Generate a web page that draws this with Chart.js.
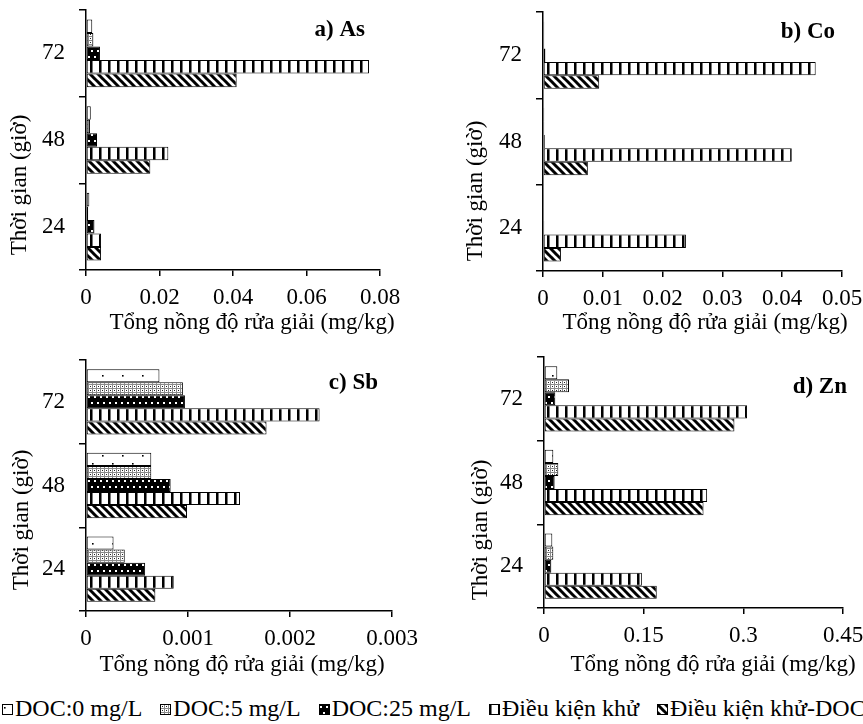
<!DOCTYPE html>
<html lang="vi">
<head>
  <meta charset="UTF-8" />
  <title>Tổng nồng độ rửa giải</title>
  <script src="https://cdn.jsdelivr.net/npm/chart.js"></script>
  <style>
    body {
      margin: 0;
      background: #fff;
      font-family: 'Liberation Serif', 'Times New Roman', serif;
    }
    .page {
      position: relative;
      width: 863px;
      height: 724px;
      overflow: hidden;
    }
    .page canvas.panel {
      position: absolute;
    }
    #chartA { left: 0; top: 0; }
    #chartB { left: 430px; top: 0; }
    #chartC { left: 0; top: 340px; }
    #chartD { left: 430px; top: 340px; }
    .legend {
      position: absolute;
      left: 2px;
      top: 693px;
      width: 861px;
      height: 30px;
      font-size: 24px;
      color: #000;
      white-space: nowrap;
      display: flex;
      align-items: center;
    }
    .legend .item {
      display: flex;
      align-items: center;
      margin-right: 18px;
      flex: none;
    }
    .legend .item canvas {
      margin-right: 2px;
      margin-top: 2px;
    }
  </style>
</head>
<body>
  <div class="page">
    <canvas id="chartA" class="panel" width="430" height="340"></canvas>
    <canvas id="chartB" class="panel" width="433" height="340"></canvas>
    <canvas id="chartC" class="panel" width="430" height="340"></canvas>
    <canvas id="chartD" class="panel" width="433" height="340"></canvas>
    <div class="legend" id="legend"></div>
  </div>

  <script>
    // categories (giờ) and series
    const categories = ['72', '48', '24'];
    const seriesNames = ['DOC:0 mg/L', 'DOC:5 mg/L', 'DOC:25 mg/L', 'Điều kiện khử', 'Điều kiện khử-DOC:25 mg/L'];

    // a) As
    const asDoc0 = [0.0017, 0.0013, 0.0009];
    const asDoc5 = [0.0020, 0.0011, 0.0006];
    const asDoc25 = [0.0038, 0.0030, 0.0023];
    const asKhu = [0.0770, 0.0224, 0.0041];
    const asKhuDoc = [0.0410, 0.0175, 0.0041];
    const asTicks = ['0', '0.02', '0.04', '0.06', '0.08'];

    // b) Co
    const coDoc0 = [0.0002, 0.0002, 0.0001];
    const coDoc5 = [0.0002, 0.0002, 0.0001];
    const coDoc25 = [0.0004, 0.0003, 0.0002];
    const coKhu = [0.0456, 0.0416, 0.0239];
    const coKhuDoc = [0.0094, 0.0075, 0.0030];
    const coTicks = ['0', '0.01', '0.02', '0.03', '0.04', '0.05'];

    // c) Sb
    const sbDoc0 = [0.00072, 0.00064, 0.00027];
    const sbDoc5 = [0.00095, 0.00064, 0.00038];
    const sbDoc25 = [0.00097, 0.00083, 0.00058];
    const sbKhu = [0.00229, 0.00151, 0.00086];
    const sbKhuDoc = [0.00177, 0.00099, 0.00068];
    const sbTicks = ['0', '0.001', '0.002', '0.003'];

    // d) Zn
    const znDoc0 = [0.020, 0.014, 0.0125];
    const znDoc5 = [0.0376, 0.0215, 0.014];
    const znDoc25 = [0.017, 0.016, 0.011];
    const znKhu = [0.3056, 0.2455, 0.1473];
    const znKhuDoc = [0.2866, 0.2401, 0.1697];
    const znTicks = ['0', '0.15', '0.3', '0.45'];

    const xTitle = 'Tổng nồng độ rửa giải (mg/kg)';
    const yTitle = 'Thời gian (giờ)';
    const FONT = '"Liberation Serif", "Times New Roman", serif';

    Chart.defaults.font.family = FONT;
    Chart.defaults.color = '#000';

    // hatch fills
    function makePattern(w, h, draw) {
      const c = document.createElement('canvas');
      c.width = w;
      c.height = h;
      const g = c.getContext('2d');
      draw(g, w, h);
      return g.createPattern(c, 'repeat');
    }

    const fills = [
      makePattern(20, 16, (g, w, h) => {
        g.fillStyle = '#fff'; g.fillRect(0, 0, w, h);
        g.fillStyle = '#000';
        g.fillRect(2, 3, 1.6, 1.6);
        g.fillRect(12, 11, 1.6, 1.6);
      }),
      makePattern(4, 4, (g, w, h) => {
        g.fillStyle = '#fff'; g.fillRect(0, 0, w, h);
        g.fillStyle = '#8a8a8a';
        g.fillRect(0, 0, 4, 1);
        g.fillRect(0, 0, 1, 4);
        g.fillStyle = '#222';
        g.fillRect(2, 2, 1, 1);
      }),
      makePattern(6, 12, (g, w, h) => {
        g.fillStyle = '#000'; g.fillRect(0, 0, w, h);
        g.fillStyle = '#fff';
        g.fillRect(1, 2, 2, 2);
        g.fillRect(4, 8, 2, 2);
      }),
      makePattern(9, 4, (g, w, h) => {
        g.fillStyle = '#fff'; g.fillRect(0, 0, w, h);
        g.fillStyle = '#000';
        g.fillRect(0, 0, 2, h);
        g.fillStyle = '#777';
        g.fillRect(2, 0, 1, h);
      }),
      makePattern(8, 8, (g, w, h) => {
        g.fillStyle = '#fff'; g.fillRect(0, 0, w, h);
        g.strokeStyle = '#000';
        g.lineWidth = 3;
        for (let k = -1; k <= 1; k++) {
          g.beginPath();
          g.moveTo(k * w - 1, -1);
          g.lineTo(k * w + w + 1, h + 1);
          g.stroke();
        }
      })
    ];

    // titles drawn at fixed spots around each panel
    const panelText = {
      id: 'panelText',
      afterDraw(chart, args, opts) {
        const ctx = chart.ctx;
        ctx.save();
        ctx.fillStyle = '#000';
        ctx.textBaseline = 'alphabetic';
        ctx.font = 'bold 23px ' + FONT;
        ctx.textAlign = 'right';
        ctx.fillText(opts.label, opts.labelX, opts.labelY);
        ctx.font = '23px ' + FONT;
        ctx.textAlign = 'center';
        ctx.fillText(xTitle, opts.xTitleX, opts.xTitleY);
        ctx.translate(opts.yTitleX, opts.yTitleY);
        ctx.rotate(-Math.PI / 2);
        ctx.textBaseline = 'middle';
        ctx.fillText(yTitle, 0, 0);
        ctx.restore();
      }
    };

    function makeChart(id, values, tickLabels, max, step, area, text) {
      return new Chart(document.getElementById(id), {
        type: 'bar',
        data: {
          labels: categories,
          datasets: seriesNames.map((name, i) => ({
            label: name,
            data: values[i],
            backgroundColor: fills[i],
            borderColor: '#000',
            borderWidth: 1,
            borderSkipped: false,
            categoryPercentage: 0.78,
            barPercentage: 1.0
          }))
        },
        options: {
          indexAxis: 'y',
          responsive: false,
          animation: false,
          events: [],
          layout: { padding: { left: 0, top: area.top, right: area.right, bottom: 0 } },
          plugins: {
            legend: { display: false },
            tooltip: { enabled: false },
            panelText: text
          },
          scales: {
            y: {
              grid: { drawOnChartArea: false, color: '#000', lineWidth: 1.5, tickLength: 7, offset: true },
              border: { color: '#000', width: 1.5 },
              ticks: { color: '#000', font: { size: 23 }, padding: 14 },
              afterFit(s) { s.width = area.left; s.paddingTop = 0; s.paddingBottom = 0; }
            },
            x: {
              min: 0,
              max: max,
              grid: { drawOnChartArea: false, color: '#000', lineWidth: 1.5, tickLength: 6 },
              border: { color: '#000', width: 1.5 },
              ticks: {
                stepSize: step,
                color: '#000',
                font: { size: 23 },
                padding: 8,
                maxRotation: 0,
                callback: (v, i) => tickLabels[i]
              },
              afterFit(s) { s.height = area.xHeight; s.paddingLeft = 0; s.paddingRight = 0; }
            }
          }
        },
        plugins: [panelText]
      });
    }

    makeChart('chartA', [asDoc0, asDoc5, asDoc25, asKhu, asKhuDoc], asTicks, 0.08, 0.02,
      { left: 86, top: 10, right: 50, xHeight: 70 },
      { label: 'a) As', labelX: 365, labelY: 36, xTitleX: 252, xTitleY: 329, yTitleX: 20, yTitleY: 185 });

    makeChart('chartB', [coDoc0, coDoc5, coDoc25, coKhu, coKhuDoc], coTicks, 0.05, 0.01,
      { left: 113, top: 12, right: 21, xHeight: 69 },
      { label: 'b) Co', labelX: 405, labelY: 38, xTitleX: 275, xTitleY: 329, yTitleX: 46, yTitleY: 191 });

    makeChart('chartC', [sbDoc0, sbDoc5, sbDoc25, sbKhu, sbKhuDoc], sbTicks, 0.003, 0.001,
      { left: 86, top: 20, right: 38, xHeight: 69 },
      { label: 'c) Sb', labelX: 378, labelY: 49, xTitleX: 242, xTitleY: 331, yTitleX: 22, yTitleY: 180 });

    makeChart('chartD', [znDoc0, znDoc5, znDoc25, znKhu, znKhuDoc], znTicks, 0.45, 0.15,
      { left: 114, top: 17, right: 20, xHeight: 72 },
      { label: 'd) Zn', labelX: 417, labelY: 53, xTitleX: 283, xTitleY: 331, yTitleX: 51, yTitleY: 190 });

    // legend row under the panels
    const legend = document.getElementById('legend');
    seriesNames.forEach((name, i) => {
      const item = document.createElement('div');
      item.className = 'item';
      const sw = document.createElement('canvas');
      sw.width = 11;
      sw.height = 11;
      const g = sw.getContext('2d');
      g.fillStyle = fills[i];
      g.fillRect(0, 0, 11, 11);
      g.strokeStyle = '#000';
      g.lineWidth = 1;
      g.strokeRect(0.5, 0.5, 10, 10);
      const label = document.createElement('span');
      label.textContent = name;
      item.appendChild(sw);
      item.appendChild(label);
      legend.appendChild(item);
    });
  </script>
</body>
</html>
